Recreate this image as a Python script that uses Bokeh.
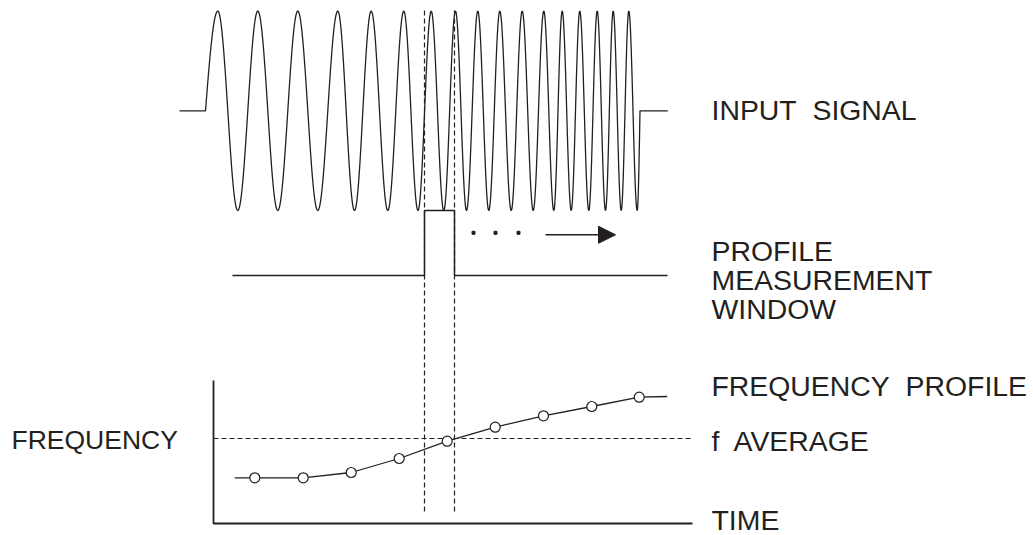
import numpy as np
from bokeh.plotting import figure
from bokeh.models import Range1d, Arrow, NormalHead, ColumnDataSource
from bokeh.core.properties import value
from bokeh.embed import file_html
from bokeh.resources import INLINE

# ---------------- data (diagram units = page pixels, y downward) ----------------
# input signal: positions of its extrema
signal_peaks_x = [217.3, 257.3, 297.3, 337.3, 370.7, 403.3, 430.7, 455.0, 477.3,
                  499.3, 521.7, 543.3, 561.7, 579.3, 596.7, 612.7, 628.3]
signal_troughs_x = [237.3, 277.3, 317.3, 354.0, 387.3, 417.5, 443.3, 466.0, 488.3,
                    510.7, 532.7, 553.3, 570.7, 588.3, 605.0, 620.7, 636.7]
signal_start_x = 179.0
signal_rise_x = 205.0
signal_fall_x = 639.5
signal_end_x = 667.3
signal_center_y = 110.3
signal_amplitude = 99.7

# profile measurement window
window_left = 424.0
window_right = 454.0
window_top = 210.0
window_base = 275.0
window_line_start = 232.0
window_line_end = 667.0
guide_top = 10.0
guide_bottom = 512.0

# sliding dots and arrow
dots_x = [473.0, 495.0, 518.0]
dots_y = [232.3, 232.3, 232.3]
arrow_x = [545.0, 615.0]
arrow_y = 234.3

# frequency chart
axis_x = 213.0
axis_top = 380.0
axis_bottom = 523.0
axis_right = 692.0
f_average = 438.0
profile_t = [254.3, 302.7, 350.7, 398.7, 446.7, 494.7, 543.0, 591.3, 638.7]
profile_f = [477.3, 477.3, 472.0, 458.0, 440.7, 426.7, 415.3, 406.0, 396.7]
profile_start = (234.3, 477.3)
profile_end = (666.7, 396.0)

# labels
NB = "\u00a0"
label_text = ["INPUT" + NB + " SIGNAL", "PROFILE", "MEASUREMENT", "WINDOW",
              "FREQUENCY" + NB + " PROFILE", "f" + NB + " AVERAGE", "TIME"]
label_x = [711.0] * 7
label_y = [109.5, 250.0, 279.3, 308.7, 385.0, 440.0, 519.5]
left_label = "FREQUENCY"
left_label_pos = (11.0, 439.5)

INK = "#231f20"

# ---------------- build signal curve from extrema ----------------
c, A = signal_center_y, signal_amplitude
xs = [signal_start_x, signal_rise_x]
ys = [c, c]
# rising quarter wave to first peak
t = np.linspace(0, 1, 25)[1:]
xs += list(signal_rise_x + (signal_peaks_x[0] - signal_rise_x) * t)
ys += list(c - A * np.sin(np.pi / 2 * t))
ext = []
for pk, tr in zip(signal_peaks_x, signal_troughs_x):
    ext += [(pk, c - A), (tr, c + A)]
for (x0, y0), (x1, y1) in zip(ext[:-1], ext[1:]):
    t = np.linspace(0, 1, 40)[1:]
    xs += list(x0 + (x1 - x0) * t)
    ys += list(c + (y0 - c) * np.cos(np.pi * t))
# quarter wave back to baseline
x0 = signal_troughs_x[-1]
t = np.linspace(0, 1, 15)[1:]
xs += list(x0 + (signal_fall_x - x0) * t)
ys += list(c + A * np.cos(np.pi / 2 * t))
xs.append(signal_end_x)
ys.append(c)

# ---------------- figure ----------------
p = figure(width=1033, height=535, x_range=Range1d(0, 1033), y_range=Range1d(535, 0),
           x_axis_type=None, y_axis_type=None, toolbar_location=None,
           output_backend="svg", min_border=0)
p.outline_line_color = None
p.background_fill_color = "white"

# input signal
p.line(xs, ys, line_color=INK, line_width=1.3)

# dashed guides of the window
for gx in (window_left, window_right):
    p.line([gx, gx], [guide_top, guide_bottom], line_color=INK, line_width=1.2,
           line_dash="5 3")

# window line with box
p.line([window_line_start, window_left, window_left, window_right, window_right, window_line_end],
       [window_base, window_base, window_top, window_top, window_base, window_base],
       line_color=INK, line_width=1.5)

# dots and arrow
p.scatter(dots_x, dots_y, marker="square", size=3, fill_color=INK, line_color=INK)
p.add_layout(Arrow(end=NormalHead(size=17, fill_color=INK, line_color=INK),
                   x_start=arrow_x[0], y_start=arrow_y, x_end=arrow_x[1], y_end=arrow_y,
                   line_color=INK, line_width=1.5))

# frequency axes
p.line([axis_x, axis_x, axis_right], [axis_top, axis_bottom, axis_bottom],
       line_color=INK, line_width=1.8)
p.line([axis_x, axis_right], [f_average, f_average], line_color=INK, line_width=1.2,
       line_dash="5 3")

# frequency profile
px = [profile_start[0]] + profile_t + [profile_end[0]]
py = [profile_start[1]] + profile_f + [profile_end[1]]
p.line(px, py, line_color=INK, line_width=1.3)
p.scatter(profile_t, profile_f, marker="circle", size=10, fill_color="white",
          line_color=INK, line_width=1.2)

# labels
src = ColumnDataSource(dict(x=label_x, y=label_y, text=label_text))
p.text(x="x", y="y", text="text", source=src, text_font=value("Liberation Sans"),
       text_font_size="28.4px", text_color=INK, text_baseline="middle", text_align="left")
p.text(x=[left_label_pos[0]], y=[left_label_pos[1]], text=[left_label],
       text_font=value("Liberation Sans"), text_font_size="26.5px", text_color=INK,
       text_baseline="middle", text_align="left")

open("out.html", "w").write(file_html(p, INLINE))
